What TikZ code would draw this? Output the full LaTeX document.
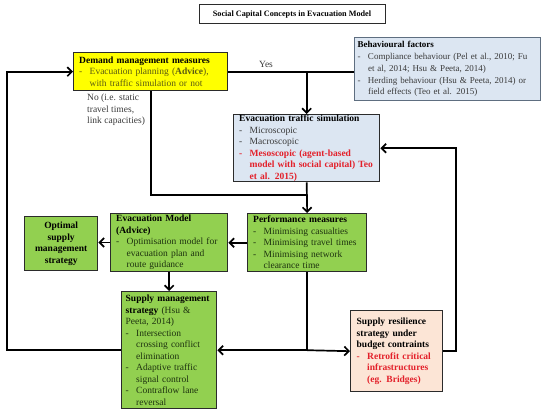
\documentclass[tikz,border=0pt]{standalone}
\usepackage{fontspec}
\setmainfont{Liberation Serif}
\usetikzlibrary{arrows.meta,calc}
\definecolor{yel}{HTML}{FFFF00}
\definecolor{lblue}{HTML}{DCE6F2}
\definecolor{grn}{HTML}{92D050}
\definecolor{peach}{HTML}{FCE5D6}
\definecolor{redt}{HTML}{E3202A}
\definecolor{bord}{HTML}{2B2B2B}
\definecolor{bbord}{HTML}{5E6E80}
\definecolor{txtg}{HTML}{3A3A3A}
\definecolor{olivet}{HTML}{5C5C12}
\definecolor{greent}{HTML}{1E3310}
\newcommand\D{\makebox[10.5pt][l]{-}}
\newcommand\I{\hspace*{10.5pt}}
\newcommand\R[1]{\textcolor{redt}{\bfseries #1}}
\newcommand\K[1]{\textcolor{black}{\bfseries #1}}
\begin{document}
\begin{tikzpicture}[x=1pt,y=-1pt,
  box/.style={draw=bord, line width=1.4pt, anchor=north west, inner xsep=5.5pt, inner ysep=1.5pt,
    align=left, font=\fontsize{9.5}{11.5}\selectfont},
  arr/.style={line width=1.7pt, -{Straight Barb[length=4.5pt,width=9pt,line width=1.7pt]}},
  ln/.style={line width=1.7pt},
  lbl/.style={inner sep=0pt, text=txtg, font=\fontsize{9.5}{11.5}\selectfont, align=left}]
\useasboundingbox (0,0) rectangle (541,411);

% title
\node[draw=bord, line width=1pt, minimum width=186, minimum height=19, inner sep=0pt,
  font=\bfseries\fontsize{8.2}{9.5}\selectfont] (title) at (292,14.5)
  {Social Capital Concepts in Evacuation Model};

% demand
\node[box, fill=yel, text=olivet, minimum width=154, minimum height=38, text width=143] (demand) at (73,52)
  {\K{Demand management measures}\\
   \D Evacuation planning (\textbf{Advice}),\\
   \I with traffic simulation or not};

% behavioural
\node[box, fill=lblue, draw=bbord, line width=1pt, text=txtg, minimum width=186, minimum height=63, text width=180,
  inner xsep=3pt, font=\fontsize{9}{11.8}\selectfont] (behav) at (354,37)
  {\K{Behavioural factors}\\
   \D Compliance behaviour (Pel et al., 2010; Fu\\
   \I et al, 2014; Hsu \& Peeta, 2014)\\
   \D Herding behaviour (Hsu \& Peeta, 2014) or\\
   \I field effects (Teo et al. 2015)};

% simulation
\node[box, fill=lblue, text=txtg, minimum width=146, minimum height=67, text width=135, inner ysep=0.3pt] (sim) at (233,114)
  {\K{Evacuation traffic simulation}\\
   \D Microscopic\\
   \D Macroscopic\\
   \R{\D Mesoscopic (agent-based}\\
   \R{\I model with social capital) Teo}\\
   \R{\I et al. 2015)}};

% performance
\node[box, fill=grn, text=greent, minimum width=119, minimum height=58, text width=108] (perf) at (247,213)
  {\K{Performance measures}\\
   \D Minimising casualties\\
   \D Minimising travel times\\
   \D Minimising network\\
   \I clearance time};

% evacuation model
\node[box, fill=grn, text=greent, minimum width=117, minimum height=57, text width=106] (evac) at (110,213)
  {\K{Evacuation Model}\\
   \K{(Advice)}\\
   \D Optimisation model for\\
   \I evacuation plan and\\
   \I route guidance};

% optimal
\node[box, fill=grn, text=black, align=center, font=\bfseries\fontsize{9.5}{11.5}\selectfont,
  minimum width=73, minimum height=54, text width=64, inner xsep=4.5pt] (optimal) at (24,216)
  {Optimal\\supply\\management\\strategy};

% supply management
\node[box, fill=grn, text=greent, minimum width=95, minimum height=117, text width=87, inner xsep=4pt] (supply) at (121,291)
  {\K{Supply management}\\
   \K{strategy} (Hsu \&\\
   Peeta, 2014)\\
   \D Intersection\\
   \I crossing conflict\\
   \I elimination\\
   \D Adaptive traffic\\
   \I signal control\\
   \D Contraflow lane\\
   \I reversal};

% resilience
\node[box, fill=peach, text=black, minimum width=92, minimum height=81, text width=80, inner xsep=6pt] (resil) at (350,310)
  {\textbf{Supply resilience}\\
   \textbf{strategy under}\\
   \textbf{budget contraints}\\
   \R{\D Retrofit critical}\\
   \R{\I infrastructures}\\
   \R{\I (eg. Bridges)}};

% labels
\node[lbl] (yes) at (266,64) {Yes};
\node[lbl, anchor=north west] (nolbl) at (87,94) {No (i.e. static\\travel times,\\link capacities)};

% coordinates
\coordinate (jyes) at (sim.north |- demand.east);
\coordinate (jno) at (perf.north |- 0,195);
\coordinate (jperf) at (perf.south |- supply.east);
\coordinate (rc1) at (456,0 |- resil.east);
\coordinate (rc2) at (456,0 |- sim.east);
\coordinate (lc1) at (7,0 |- supply.west);
\coordinate (lc2) at (7,0 |- demand.west);

% connectors
\draw[ln] (demand.east) -- (demand.east -| behav.west);
\draw[arr] (jyes) -- (sim.north);
\draw[ln] (demand.south) -- (demand.south |- jno) -- (jno);
\draw[arr] (sim.south) -- (perf.north);
\draw[arr] (resil.east) -- (rc1) -- (rc2) -- (sim.east);
\draw[arr] (perf.west) -- (perf.west -| evac.east);
\draw[arr] (evac.west) -- (evac.west -| optimal.east);
\draw[arr] (evac.south) -- (supply.north);
\draw[ln] (perf.south) -- (jperf);
\draw[arr] (jperf) -- (supply.east);
\draw[arr] (jperf) -- (resil.west);
\draw[arr] (supply.west) -- (lc1) -- (lc2) -- (demand.west);
\end{tikzpicture}
\end{document}
